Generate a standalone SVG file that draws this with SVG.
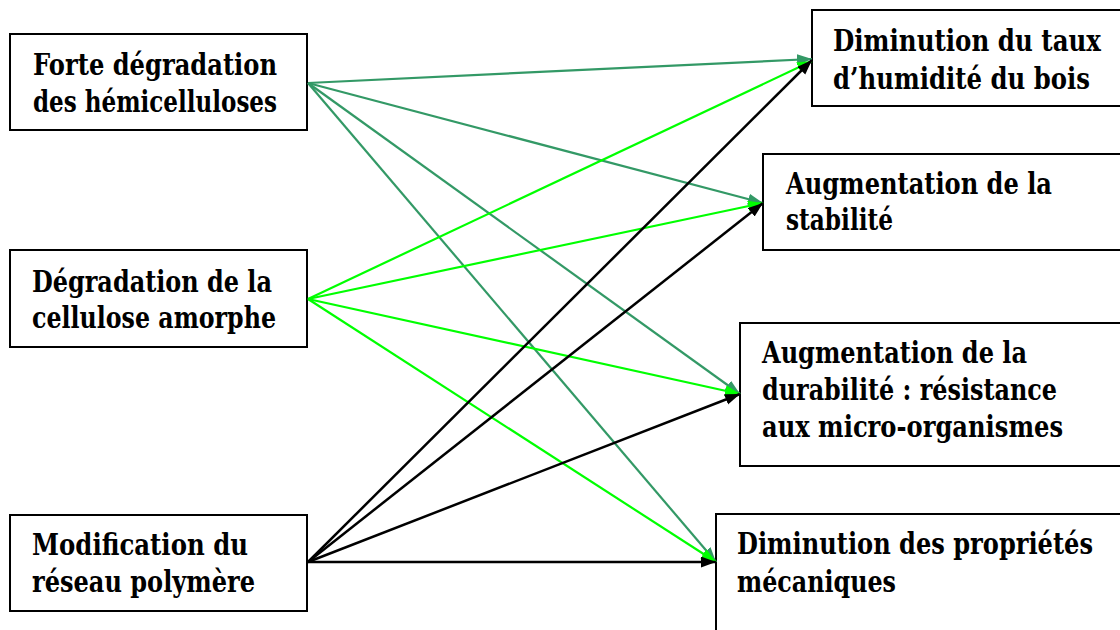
<svg xmlns="http://www.w3.org/2000/svg" width="1120" height="630" viewBox="0 0 1120 630">
<style>
.box{fill:#fff;stroke:#000;stroke-width:2}
.t{font-family:'DejaVu Serif','Liberation Serif',serif;font-weight:700;font-size:29px;fill:#000}
.dg{stroke:#339966;stroke-width:2.2;fill:none}
.lg{stroke:#00ff00;stroke-width:2.2;fill:none}
.bk{stroke:#000;stroke-width:2.5;fill:none}
</style>
<defs>
<marker id="aDG" markerUnits="userSpaceOnUse" markerWidth="16" markerHeight="12" refX="15" refY="5.5" orient="auto"><path d="M0,0 L15,5.5 L0,11 z" fill="#339966"/></marker>
<marker id="aLG" markerUnits="userSpaceOnUse" markerWidth="16" markerHeight="12" refX="15" refY="5.5" orient="auto"><path d="M0,0 L15,5.5 L0,11 z" fill="#00ff00"/></marker>
<marker id="aBK" markerUnits="userSpaceOnUse" markerWidth="16" markerHeight="12" refX="15" refY="5.5" orient="auto"><path d="M0,0 L15,5.5 L0,11 z" fill="#000"/></marker>
</defs>
<rect width="1120" height="630" fill="#fff"/>
<g id="n-forte">
<rect class="box" x="10" y="34" width="297" height="96"/>
<text class="t" x="33" y="75" textLength="244" lengthAdjust="spacingAndGlyphs">Forte dégradation</text>
<text class="t" x="33" y="112" textLength="244" lengthAdjust="spacingAndGlyphs">des hémicelluloses</text>
</g>
<g id="n-cellulose">
<rect class="box" x="10" y="250" width="297" height="97"/>
<text class="t" x="32" y="292" textLength="240" lengthAdjust="spacingAndGlyphs">Dégradation de la</text>
<text class="t" x="32" y="328" textLength="244" lengthAdjust="spacingAndGlyphs">cellulose amorphe</text>
</g>
<g id="n-modification">
<rect class="box" x="10" y="515" width="297" height="96"/>
<text class="t" x="32" y="555" textLength="216" lengthAdjust="spacingAndGlyphs">Modification du</text>
<text class="t" x="32" y="592" textLength="223" lengthAdjust="spacingAndGlyphs">réseau polymère</text>
</g>
<g id="n-humidite">
<rect class="box" x="812" y="10" width="320" height="96"/>
<text class="t" x="833" y="51" textLength="268" lengthAdjust="spacingAndGlyphs">Diminution du taux</text>
<text class="t" x="833" y="89" textLength="257" lengthAdjust="spacingAndGlyphs">d’humidité du bois</text>
</g>
<g id="n-stabilite">
<rect class="box" x="763" y="154" width="370" height="96"/>
<text class="t" x="786" y="194" textLength="266" lengthAdjust="spacingAndGlyphs">Augmentation de la</text>
<text class="t" x="786" y="230" textLength="107" lengthAdjust="spacingAndGlyphs">stabilité</text>
</g>
<g id="n-durabilite">
<rect class="box" x="740" y="323" width="390" height="143"/>
<text class="t" x="762" y="363" textLength="265" lengthAdjust="spacingAndGlyphs">Augmentation de la</text>
<text class="t" x="762" y="400" textLength="295" lengthAdjust="spacingAndGlyphs">durabilité : résistance</text>
<text class="t" x="762" y="437" textLength="301" lengthAdjust="spacingAndGlyphs">aux micro-organismes</text>
</g>
<g id="n-mecaniques">
<rect class="box" x="716" y="514" width="420" height="130"/>
<text class="t" x="737" y="554" textLength="356" lengthAdjust="spacingAndGlyphs">Diminution des propriétés</text>
<text class="t" x="737" y="592" textLength="159" lengthAdjust="spacingAndGlyphs">mécaniques</text>
</g>
<g id="connectors">
<line class="dg" x1="308" y1="83" x2="812" y2="59" marker-end="url(#aDG)"/>
<line class="dg" x1="308" y1="83" x2="763" y2="203" marker-end="url(#aDG)"/>
<line class="dg" x1="308" y1="83" x2="740" y2="394" marker-end="url(#aDG)"/>
<line class="dg" x1="308" y1="83" x2="716" y2="562" marker-end="url(#aDG)"/>
<line class="lg" x1="308" y1="299" x2="812" y2="61" marker-end="url(#aLG)"/>
<line class="lg" x1="308" y1="299" x2="763" y2="203" marker-end="url(#aLG)"/>
<line class="lg" x1="308" y1="299" x2="740" y2="394" marker-end="url(#aLG)"/>
<line class="lg" x1="308" y1="299" x2="716" y2="562" marker-end="url(#aLG)"/>
<line class="bk" x1="308" y1="562" x2="812" y2="60" marker-end="url(#aBK)"/>
<line class="bk" x1="308" y1="562" x2="763" y2="203" marker-end="url(#aBK)"/>
<line class="bk" x1="308" y1="562" x2="740" y2="394" marker-end="url(#aBK)"/>
<line class="bk" x1="308" y1="562" x2="716" y2="562" marker-end="url(#aBK)"/>
</g>
</svg>
